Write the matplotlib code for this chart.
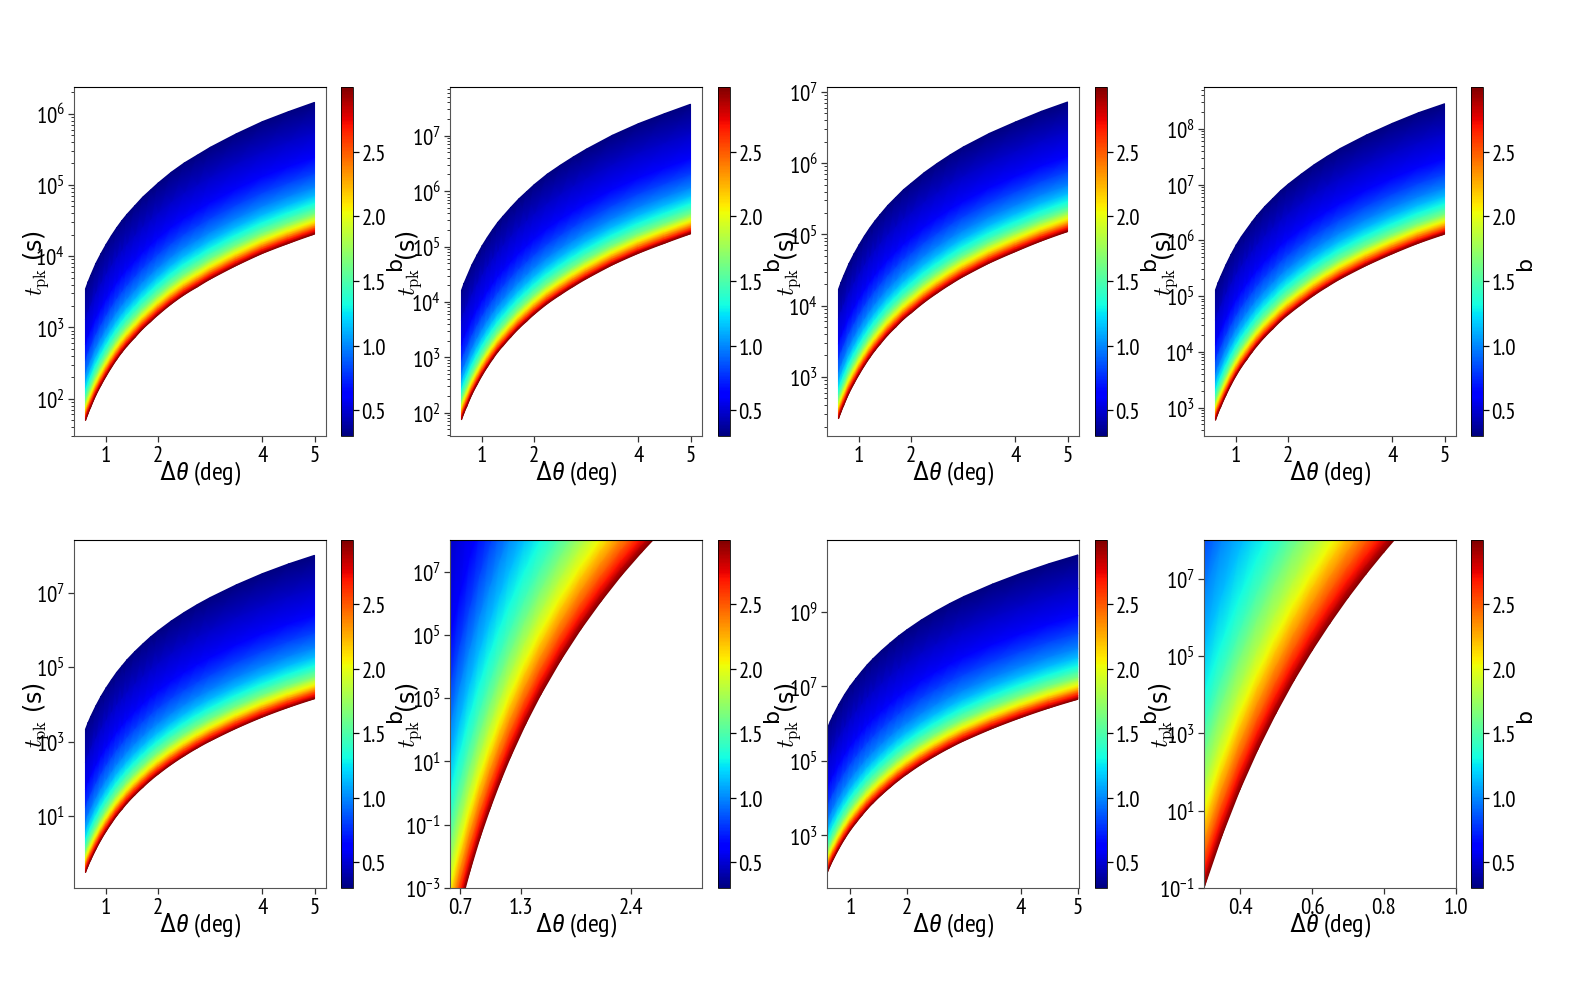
import numpy as np
import matplotlib
matplotlib.use('Agg')
import matplotlib.pyplot as plt
from matplotlib.ticker import LogLocator, NullFormatter, NullLocator

# b levels of the colour bar
b_levels = [0.3, 0.47, 0.64, 0.82, 1.0, 1.15, 1.31, 1.48, 1.65, 1.84, 2.03, 2.19, 2.35, 2.52, 2.7, 2.85, 3.0]
b_ticks = [0.5, 1.0, 1.5, 2.0, 2.5]

theta_wide = [0.6, 0.65, 0.7, 0.8, 0.9, 1.0, 1.1, 1.2, 1.3, 1.4, 1.55, 1.7, 1.85, 2.0, 2.25, 2.5, 2.75, 3.0, 3.5, 4.0, 4.5, 5.0]
theta_6 = [0.6, 0.7, 0.8, 0.9, 1.0, 1.1, 1.2, 1.35, 1.5, 1.7, 1.9, 2.1, 2.3, 2.5, 2.7, 3.1]
theta_8 = [0.3, 0.35, 0.4, 0.45, 0.5, 0.55, 0.6, 0.65, 0.7, 0.75, 0.8, 0.85, 0.9, 1.0]

# log10 t_pk of the lowest curve (b = 3)
low_1 = [1.69, 1.79, 1.88, 2.05, 2.19, 2.32, 2.44, 2.55, 2.65, 2.74, 2.86, 2.98, 3.08, 3.18, 3.33, 3.46, 3.57, 3.68, 3.87, 4.04, 4.18, 4.31]
low_2 = [1.87, 2.00, 2.11, 2.33, 2.51, 2.68, 2.83, 2.97, 3.10, 3.21, 3.37, 3.52, 3.65, 3.78, 3.97, 4.13, 4.28, 4.42, 4.67, 4.88, 5.06, 5.23]
low_3 = [2.41, 2.51, 2.60, 2.77, 2.91, 3.04, 3.16, 3.27, 3.37, 3.46, 3.59, 3.70, 3.81, 3.90, 4.05, 4.18, 4.30, 4.41, 4.60, 4.76, 4.91, 5.04]
low_4 = [2.77, 2.90, 3.01, 3.22, 3.41, 3.58, 3.73, 3.86, 3.99, 4.11, 4.27, 4.41, 4.55, 4.67, 4.85, 5.02, 5.17, 5.31, 5.55, 5.76, 5.95, 6.11]
low_5 = [-0.52, -0.34, -0.18, 0.11, 0.37, 0.60, 0.81, 1.01, 1.18, 1.35, 1.57, 1.77, 1.96, 2.13, 2.39, 2.62, 2.83, 3.02, 3.36, 3.66, 3.92, 4.15]
low_6 = [-4.97, -3.63, -2.44, -1.39, -0.47, 0.37, 1.14, 2.18, 3.11, 4.21, 5.19, 6.07, 6.88, 7.61, 8.29, 9.51]
low_7 = [2.02, 2.20, 2.36, 2.65, 2.91, 3.14, 3.34, 3.53, 3.71, 3.87, 4.09, 4.29, 4.48, 4.65, 4.91, 5.14, 5.35, 5.54, 5.87, 6.16, 6.42, 6.65]
low_8 = [-1.0, 0.36, 1.55, 2.59, 3.52, 4.37, 5.14, 5.85, 6.51, 7.12, 7.69, 8.23, 8.73, 9.67]

# dex above the b = 3 curve for every b level
rise_1 = [1.85, 1.42, 1.07, 0.84, 0.65, 0.53, 0.43, 0.35, 0.28, 0.23, 0.18, 0.14, 0.11, 0.08, 0.05, 0.02, 0.0]
rise_2 = [2.34, 1.80, 1.35, 1.06, 0.82, 0.67, 0.54, 0.44, 0.35, 0.29, 0.23, 0.18, 0.14, 0.10, 0.06, 0.03, 0.0]
rise_3 = [1.82, 1.40, 1.05, 0.83, 0.64, 0.52, 0.42, 0.34, 0.28, 0.23, 0.18, 0.14, 0.11, 0.08, 0.05, 0.02, 0.0]
rise_4 = [2.34, 1.80, 1.35, 1.06, 0.82, 0.67, 0.54, 0.44, 0.35, 0.29, 0.23, 0.18, 0.14, 0.10, 0.06, 0.03, 0.0]
rise_5 = [3.85, 2.96, 2.23, 1.75, 1.35, 1.10, 0.89, 0.73, 0.58, 0.48, 0.37, 0.29, 0.23, 0.17, 0.10, 0.04, 0.0]
rise_6 = [17.0, 13.0, 9.9, 8.3, 7.0, 5.9, 4.9, 4.0, 3.3, 2.6, 2.0, 1.6, 1.2, 0.8, 0.45, 0.2, 0.0]
rise_7 = [3.87, 2.97, 2.24, 1.76, 1.35, 1.10, 0.89, 0.73, 0.58, 0.48, 0.37, 0.29, 0.23, 0.17, 0.10, 0.04, 0.0]
rise_8 = [18.0, 14.0, 11.0, 9.1, 7.6, 6.2, 5.0, 4.1, 3.4, 2.6, 2.0, 1.6, 1.2, 0.8, 0.45, 0.2, 0.0]

thetas = [theta_wide, theta_wide, theta_wide, theta_wide, theta_wide, theta_6, theta_wide, theta_8]
lows = [low_1, low_2, low_3, low_4, low_5, low_6, low_7, low_8]
rises = [rise_1, rise_2, rise_3, rise_4, rise_5, rise_6, rise_7, rise_8]

x_ticks = [[1, 2, 4, 5]] * 5 + [[0.7, 1.3, 2.4], [1, 2, 4, 5], [0.4, 0.6, 0.8, 1.0]]
x_labels = [['1', '2', '4', '5']] * 5 + [['0.7', '1.3', '2.4'], ['1', '2', '4', '5'], ['0.4', '0.6', '0.8', '1.0']]
y_exps = [[2, 3, 4, 5, 6], [2, 3, 4, 5, 6, 7], [3, 4, 5, 6, 7], [3, 4, 5, 6, 7, 8],
          [1, 3, 5, 7], [-3, -1, 1, 3, 5, 7], [3, 5, 7, 9], [-1, 1, 3, 5, 7]]

x_lims = [(0.38, 5.22)] * 5 + [(0.6, 3.1), (0.59, 5.02), (0.3, 1.0)]
y_lims = [(1.475, 6.375), (1.58, 7.88), (2.17, 7.07), (2.49, 8.75),
          (-0.93, 8.41), (-3, 8), (1.59, 10.92), (-1, 8)]

W, H = 1591, 1003
col_left = [74, 450, 827, 1204]
col_cbar = [341, 718, 1095, 1471]
row_top = [88, 541]
row_bot = [437, 889]
ylabel_x = [-0.091, -0.103, -0.094, -0.094, -0.091, -0.103, -0.094, -0.107]

plt.rcParams['font.family'] = ['PT Sans Narrow', 'Roboto Condensed', 'DejaVu Sans']
plt.rcParams['mathtext.fontset'] = 'custom'
plt.rcParams['mathtext.rm'] = 'Roboto Condensed'
plt.rcParams['mathtext.it'] = 'Roboto Condensed:italic'

fig = plt.figure(figsize=(W / 100, H / 100), dpi=100)

for k in range(8):
    r, c = k // 4, k % 4
    top, bot = row_top[r], row_bot[r]
    ax = fig.add_axes([col_left[c] / W, 1 - bot / H, 252 / W, (bot - top) / H])
    cax = fig.add_axes([col_cbar[c] / W, 1 - bot / H, 12 / W, (bot - top) / H])

    X, B = np.meshgrid(thetas[k], b_levels)
    Y = 10.0 ** (np.array(lows[k])[None, :] + np.array(rises[k])[:, None])
    mesh = ax.pcolormesh(X, Y, B, shading='gouraud', cmap='jet', vmin=0.3, vmax=3.0)

    ax.set_yscale('log')
    ax.set_xlim(x_lims[k])
    ax.set_ylim(10.0 ** y_lims[k][0], 10.0 ** y_lims[k][1])
    ax.set_xticks(x_ticks[k])
    ax.set_xticklabels(x_labels[k])
    ax.set_yticks([10.0 ** e for e in y_exps[k]])
    ax.set_yticklabels(['$\\mathdefault{10^{%d}}$' % e for e in y_exps[k]])
    if y_exps[k][1] - y_exps[k][0] == 1:
        ax.yaxis.set_minor_locator(LogLocator(base=10, subs=np.arange(2, 10), numticks=30))
        ax.yaxis.set_minor_formatter(NullFormatter())
    else:
        ax.yaxis.set_minor_locator(NullLocator())
    ax.tick_params(axis='both', which='major', labelsize=16.5, length=4, width=0.9, pad=2.5, color='#333333')
    ax.tick_params(axis='y', which='minor', length=2, width=0.7, color='#333333')
    for s in ['left', 'right', 'bottom']:
        ax.spines[s].set_color('#555555')
    ax.spines['top'].set_color('black')

    ax.set_xlabel('$\\Delta\\theta$ (deg)', fontsize=19, labelpad=-5)
    ax.set_ylabel('$t_{\\rm pk}$ (s)', fontsize=17, family='DejaVu Sans', math_fontfamily='cm')
    ax.yaxis.set_label_coords(ylabel_x[k], 0.5)

    cb = fig.colorbar(mesh, cax=cax, ticks=b_ticks)
    cb.ax.tick_params(labelsize=16.5, length=4, width=0.9, pad=2)
    cb.outline.set_linewidth(0.6)
    cb.set_label('b', fontsize=16, family='DejaVu Sans')
    cb.ax.yaxis.set_label_coords(3.67, 0.5)

fig.savefig('out.png', dpi=100)
